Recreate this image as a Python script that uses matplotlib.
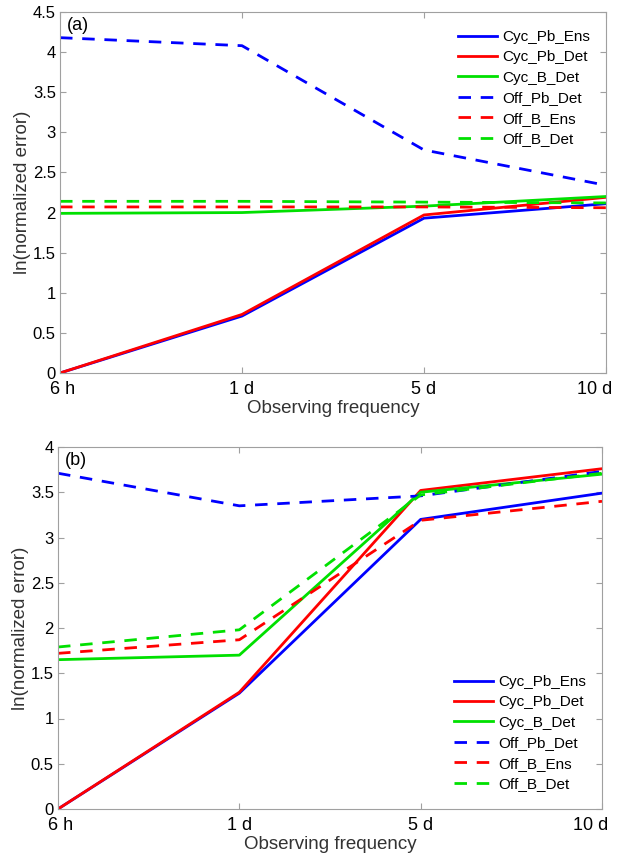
import numpy as np
import matplotlib
matplotlib.use('Agg')
import matplotlib.pyplot as plt
import matplotlib.transforms as mtransforms

plt.rcParams['font.family'] = ['Liberation Sans', 'DejaVu Sans']

# observing frequency categories
freq_labels = ['6 h', '1 d', '5 d', '10 d']

series_names = ['Cyc_Pb_Ens', 'Cyc_Pb_Det', 'Cyc_B_Det',
                'Off_Pb_Det', 'Off_B_Ens', 'Off_B_Det']

# panel (a)
a_cyc_pb_ens = [0.0, 0.71, 1.93, 2.11]
a_cyc_pb_det = [0.0, 0.73, 1.97, 2.19]
a_cyc_b_det = [1.99, 2.00, 2.08, 2.20]
a_off_pb_det = [4.18, 4.08, 2.78, 2.34]
a_off_b_ens = [2.07, 2.07, 2.07, 2.06]
a_off_b_det = [2.14, 2.14, 2.13, 2.12]

# panel (b)
b_cyc_pb_ens = [0.0, 1.28, 3.20, 3.49]
b_cyc_pb_det = [0.0, 1.29, 3.52, 3.76]
b_cyc_b_det = [1.65, 1.70, 3.50, 3.70]
b_off_pb_det = [3.71, 3.35, 3.46, 3.73]
b_off_b_ens = [1.72, 1.87, 3.19, 3.40]
b_off_b_det = [1.79, 1.98, 3.47, 3.71]

colors = ['#0000ff', '#ff0000', '#00e000', '#0000ff', '#ff0000', '#00e000']
styles = ['-', '-', '-', (0, (4.5, 3.5)), (0, (4.5, 3.5)), (0, (4.5, 3.5))]

fig = plt.figure(figsize=(6.2, 8.61), dpi=100)
ax_a = fig.add_axes([60 / 620, 1 - 373 / 861, 546 / 620, 361 / 861])
ax_b = fig.add_axes([58 / 620, 1 - 809 / 861, 544 / 620, 362 / 861])

x = np.arange(len(freq_labels))
edge = '#a0a0a0'


def draw(ax, data, ymax, tag, loc, anchor):
    for vals, name, c, ls in zip(data, series_names, colors, styles):
        ax.plot(x, vals, color=c, linestyle=ls, lw=2.0, label=name)
    ax.set_xlim(0, 3)
    ax.set_ylim(0, ymax)
    yt = np.arange(0, ymax + 0.01, 0.5)
    ax.set_yticks(yt)
    ax.set_yticklabels(['%g' % v for v in yt], fontsize=12)
    ax.set_xticks(x)
    ax.set_xticklabels(freq_labels, fontsize=13)
    ax.tick_params(direction='in', length=4, color=edge, top=True,
                   right=True, labeltop=False, labelright=False, pad=3)
    ax.tick_params(axis='x', pad=6)
    # the end labels sit slightly inward, as in the reference
    first, last = ax.get_xticklabels()[0], ax.get_xticklabels()[-1]
    first.set_transform(first.get_transform() + mtransforms.ScaledTranslation(
        2 / 72, 0, fig.dpi_scale_trans))
    last.set_transform(last.get_transform() + mtransforms.ScaledTranslation(
        -8 / 72, 0, fig.dpi_scale_trans))
    for s in ax.spines.values():
        s.set_color(edge)
    ax.set_xlabel('Observing frequency', fontsize=13.5, color='#333333',
                  labelpad=1)
    ax.set_ylabel('ln(normalized error)', fontsize=13.5, color='#333333',
                  labelpad=1)
    ax.text(0.012, 0.985, tag, transform=ax.transAxes, fontsize=13,
            va='top', ha='left')
    ax.legend(loc=loc, bbox_to_anchor=anchor, frameon=False, fontsize=11,
              handlelength=2.6, handletextpad=0.3, labelspacing=0.42,
              borderaxespad=0.3)


draw(ax_a, [a_cyc_pb_ens, a_cyc_pb_det, a_cyc_b_det,
            a_off_pb_det, a_off_b_ens, a_off_b_det],
     4.5, '(a)', 'upper right', (0.99, 0.98))
draw(ax_b, [b_cyc_pb_ens, b_cyc_pb_det, b_cyc_b_det,
            b_off_pb_det, b_off_b_ens, b_off_b_det],
     4.0, '(b)', 'lower right', (0.99, 0.02))

fig.savefig('out.png', dpi=100)
